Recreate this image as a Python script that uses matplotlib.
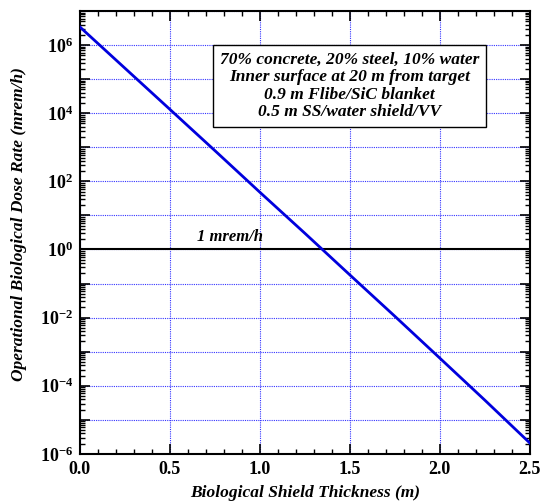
import matplotlib
matplotlib.use("Agg")
import matplotlib.pyplot as plt
from matplotlib.ticker import LogLocator, FuncFormatter, MultipleLocator, NullFormatter
import numpy as np

# Data
thickness_m = [0.0, 0.25, 0.5, 0.75, 1.0, 1.25, 1.5, 1.75, 2.0, 2.25, 2.5]
dose_mrem_h = [3.4e6, 2.1e5, 1.3e4, 8.0e2, 4.8e1, 3.0e0, 1.8e-1, 1.1e-2, 6.5e-4, 3.8e-5, 2.1e-6]
limit_value = 1.0
limit_label = "1 mrem/h"
box_lines = ["70% concrete, 20% steel, 10% water",
             "Inner surface at 20 m from target",
             "0.9 m Flibe/SiC blanket",
             "0.5 m SS/water shield/VV"]
x_label = "Biological Shield Thickness (m)"
y_label = "Operational Biological Dose Rate (mrem/h)"

plt.rcParams['font.family'] = ['Liberation Serif', 'DejaVu Serif']
plt.rcParams['mathtext.fontset'] = 'custom'
plt.rcParams['mathtext.rm'] = 'Liberation Serif:bold'
plt.rcParams['mathtext.it'] = 'Liberation Serif:bold:italic'
plt.rcParams['mathtext.bf'] = 'Liberation Serif:bold'

fig = plt.figure(figsize=(5.40, 5.01), dpi=100)
ax = fig.add_axes([0.148, 0.094, 0.833, 0.884])

ax.plot(thickness_m, dose_mrem_h, color='#0000dd', lw=2.0, zorder=3)
ax.axhline(limit_value, color='black', lw=1.5, zorder=2)

ax.set_yscale('log')
ax.set_xlim(0, 2.5)
ax.set_ylim(1e-6, 1e7)

ax.xaxis.set_major_locator(MultipleLocator(0.5))
ax.xaxis.set_minor_locator(MultipleLocator(0.1))
ax.xaxis.set_major_formatter(FuncFormatter(lambda v, p: f"{v:.1f}"))

ax.yaxis.set_major_locator(LogLocator(base=10, numticks=30))
ax.yaxis.set_minor_locator(LogLocator(base=10, subs=np.arange(2, 10), numticks=30))
ax.yaxis.set_minor_formatter(NullFormatter())

def yfmt(v, p):
    e = int(round(np.log10(v)))
    if e % 2 == 0:
        return r"$10^{%d}$" % e
    return ""
ax.yaxis.set_major_formatter(FuncFormatter(yfmt))

ax.tick_params(which='both', direction='in', top=True, right=True)
ax.tick_params(which='major', length=7, width=1.2, labelsize=13)
ax.tick_params(axis='x', which='major', pad=5)
ax.tick_params(axis='y', which='major', pad=5)
ax.tick_params(which='minor', length=3.5, width=1.0)
for lab in ax.get_xticklabels():
    lab.set_fontweight('bold')

ax.grid(True, which='major', color='#3333ff', linestyle=(0, (1, 1)), lw=0.8)
for s in ax.spines.values():
    s.set_linewidth(1.5)

ax.set_xlabel(x_label, fontsize=12.5, fontweight='bold', style='italic')
ax.xaxis.set_label_coords(0.5, -0.07)
ax.set_ylabel(y_label, fontsize=12.5, fontweight='bold', style='italic')
ax.yaxis.set_label_coords(-0.118, 0.52)

ax.text(0.65, 1.35, limit_label, fontsize=12, fontweight='bold', style='italic',
        ha='left', va='bottom', zorder=4)

ax.text(1.5, 6.3e4, "\n".join(box_lines), fontsize=12.5, fontweight='bold', style='italic',
        ha='center', va='center', linespacing=1.13, zorder=5,
        bbox=dict(boxstyle='square,pad=0.4', fc='white', ec='black', lw=1.0))

fig.savefig("out.png", dpi=100)
